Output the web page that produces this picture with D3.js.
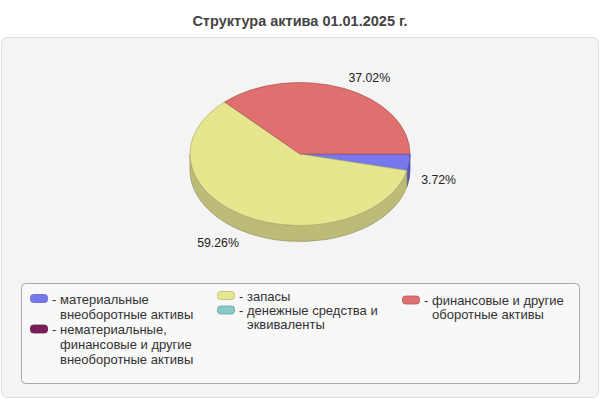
<!DOCTYPE html>
<html>
<head>
<meta charset="utf-8">
<script src="https://cdn.jsdelivr.net/npm/d3@7"></script>
<style>
  body { margin: 0; background: #fff; }
  text { font-family: "Liberation Sans", Arial, sans-serif; }
</style>
</head>
<body>
<div id="chart"></div>
<script>
// data
const title = "Структура актива 01.01.2025 г.";
const categories = [
  ["материальные", "внеоборотные активы"],
  ["нематериальные,", "финансовые и другие", "внеоборотные активы"],
  ["запасы"],
  ["денежные средства и", "эквиваленты"],
  ["финансовые и другие", "оборотные активы"]
];
const values = [3.72, 0, 59.26, 0, 37.02];
const colors = ["#7777ee", "#7a1e5a", "#e6e68e", "#88c8c8", "#e07070"];
const sideColors = ["#5555c4", "#5a1040", "#bcbb78", "#6aa8a8", "#b85858"];

const W = 600, H = 400;
const svg = d3.select("#chart").append("svg")
  .attr("width", W).attr("height", H);

// title
svg.append("text")
  .attr("x", 300).attr("y", 26)
  .attr("text-anchor", "middle")
  .attr("font-size", 14.5).attr("font-weight", "bold")
  .attr("fill", "#444")
  .text(title);

// outer panel
svg.append("rect")
  .attr("x", 1.5).attr("y", 37.5).attr("width", 597).attr("height", 360)
  .attr("rx", 6)
  .attr("fill", "#f4f4f4").attr("stroke", "#dedede");

// 3d pie
const cx = 300, cy = 154, rx = 110, ry = 71.5, depth = 16;
const pie = d3.pie().sort(null)
  .startAngle(Math.PI / 2).endAngle(Math.PI / 2 + 2 * Math.PI);
const arcs = pie(values).map((d, i) => Object.assign(d, {i}));

const pt = (a, dy = 0) => [cx + rx * Math.sin(a), cy - ry * Math.cos(a) + dy];

const g = svg.append("g");

// side walls (front half only)
arcs.filter(d => d.value > 0).forEach(d => {
  const b0 = Math.max(d.startAngle, Math.PI / 2);
  const b1 = Math.min(d.endAngle, 3 * Math.PI / 2);
  if (b1 <= b0) return;
  const p0 = pt(b0), p1 = pt(b1), q0 = pt(b0, depth), q1 = pt(b1, depth);
  const large = (b1 - b0) > Math.PI ? 1 : 0;
  g.append("path")
    .attr("d", `M${p0}A${rx},${ry} 0 ${large} 1 ${p1}L${q1}A${rx},${ry} 0 ${large} 0 ${q0}Z`)
    .attr("fill", sideColors[d.i])
    .attr("stroke", d3.color(sideColors[d.i]).darker(0.7))
    .attr("stroke-width", 0.7);
});

// top faces
arcs.filter(d => d.value > 0).forEach(d => {
  const p0 = pt(d.startAngle), p1 = pt(d.endAngle);
  const large = (d.endAngle - d.startAngle) > Math.PI ? 1 : 0;
  g.append("path")
    .attr("d", `M${cx},${cy}L${p0}A${rx},${ry} 0 ${large} 1 ${p1}Z`)
    .attr("fill", colors[d.i])
    .attr("stroke", d3.color(colors[d.i]).darker(0.8))
    .attr("stroke-width", 0.7);
});

// percentage labels
const off = 12;
arcs.filter(d => d.value > 0).forEach(d => {
  const a = (d.startAngle + d.endAngle) / 2;
  const s = Math.sin(a), c = -Math.cos(a);
  g.append("text")
    .attr("x", cx + (rx + off) * s)
    .attr("y", cy + (ry + off) * c + (c > 0 ? depth : 0))
    .attr("dy", "0.35em")
    .attr("text-anchor", s >= 0 ? "start" : "end")
    .attr("font-size", 12.3).attr("fill", "#222")
    .text(d3.format(".2f")(d.value) + "%");
});

// legend
svg.append("rect")
  .attr("x", 21.5).attr("y", 283.5).attr("width", 558).attr("height", 100)
  .attr("rx", 4)
  .attr("fill", "#f8f8f8").attr("stroke", "#a8a8a8");

const legendPos = [
  {x: 30, y: 299, lh: 15.2},
  {x: 30, y: 329.5, lh: 15.2},
  {x: 217, y: 296, lh: 14},
  {x: 217, y: 310.5, lh: 14},
  {x: 402, y: 300.5, lh: 14.3}
];
const lg = svg.append("g");
categories.forEach((lines, i) => {
  const p = legendPos[i];
  const item = lg.append("g").attr("transform", `translate(${p.x},${p.y})`);
  item.append("rect")
    .attr("x", 0.5).attr("y", -4.5).attr("width", 17).attr("height", 8)
    .attr("rx", 3)
    .attr("fill", colors[i])
    .attr("stroke", d3.color(colors[i]).darker(0.6)).attr("stroke-width", 0.8);
  item.append("text")
    .attr("x", 22).attr("y", 0).attr("dy", "0.35em")
    .attr("font-size", 13).attr("fill", "#333")
    .text("-");
  item.selectAll("text.l").data(lines).join("text")
    .attr("class", "l")
    .attr("x", 30).attr("y", (d, j) => j * p.lh).attr("dy", "0.35em")
    .attr("font-size", 13).attr("fill", "#333")
    .text(d => d);
});
</script>
</body>
</html>
